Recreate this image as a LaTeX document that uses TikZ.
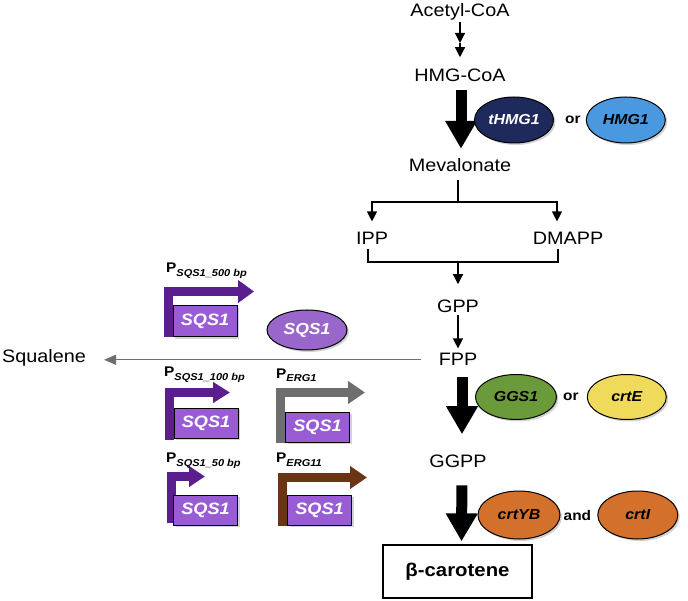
\documentclass[tikz,border=0pt]{standalone}
\usepackage{fontspec}
\setmainfont{Liberation Sans}[FakeStretch=1.1]
\usetikzlibrary{arrows.meta, positioning, calc, shapes.geometric, shadows}

\definecolor{navy}{HTML}{1F2A5C}
\definecolor{skyblue}{HTML}{4A98E0}
\definecolor{leaf}{HTML}{6B9A3A}
\definecolor{lemon}{HTML}{F0DA5C}
\definecolor{rust}{HTML}{D2702C}
\definecolor{lilac}{HTML}{9966CC}
\definecolor{genebox}{HTML}{9A5CD4}
\definecolor{plum}{HTML}{5B1E8E}
\definecolor{ash}{HTML}{6E6E6E}
\definecolor{umber}{HTML}{6A3512}

\begin{document}
\begin{tikzpicture}[x=1pt, y=-1pt]
	\tikzset{thinarr/.style={line width=1.2pt, -{Triangle[width=10pt,length=10pt]}},
		thickarr/.style={line width=11pt, -{Triangle[width=30pt,length=28pt]}},
		met/.style={font=\fontsize{18}{20}\selectfont, inner sep=1pt, anchor=base},
		conj/.style={font=\fontsize{14}{16}\selectfont\bfseries, inner sep=0pt},
		enz/.style={ellipse, draw=black, line width=1pt, minimum width=80pt, minimum height=46pt, inner sep=0pt,
			font=\fontsize{14.5}{16}\selectfont\bfseries\itshape,
			drop shadow={opacity=0.35, shadow xshift=2pt, shadow yshift=-2pt}},
		gene/.style={draw=black, line width=1pt, fill=genebox, text=white, minimum width=64pt, minimum height=30pt,
			inner sep=0pt, font=\fontsize{16.5}{18}\selectfont\bfseries\itshape,
			drop shadow={opacity=0.35, shadow xshift=2pt, shadow yshift=-2pt}},
		prom/.style={line width=9pt},
		plabel/.style={anchor=base west, inner sep=0pt, font=\fontsize{14}{16}\selectfont\bfseries}}
	\useasboundingbox (0,0) rectangle (688,601);

	% pathway
	\node[met] (acetyl) at (460,17) {Acetyl-CoA};
	\node[met] (hmg) at (460,82) {HMG-CoA};
	\node[met] (meva) at (460,172) {Mevalonate};
	\node[met] (ipp) at (372,245) {IPP};
	\node[met] (dmapp) at (568,245) {DMAPP};
	\node[met] (gpp) at (458,313) {GPP};
	\node[met] (fpp) at (458,366) {FPP};
	\node[met] (ggpp) at (458,467) {GGPP};
	\node[met] (squalene) at (44,363) {Squalene};
	\node[draw=black, line width=1.2pt, minimum width=149pt, minimum height=53pt,
		font=\fontsize{18.5}{20}\selectfont\bfseries] (carotene) at (457.5,571.5) {β-carotene};

	\coordinate (mid) at (460,43);
	\coordinate (split) at (458,202);
	\coordinate (join) at (458,262);

	\draw[thinarr] (acetyl.south) -- (mid);
	\draw[thinarr, shorten >=11pt] (mid) -- (hmg.north);
	\draw[thickarr, shorten <=7pt, shorten >=9pt] ($(hmg.south)+(1,0)$) -- ($(meva.north)+(1,0)$);
	\draw[line width=1.2pt, shorten <=7pt] (meva.south -| split) -- (split);
	\draw[thinarr, shorten >=10pt] (split) -| (ipp.north);
	\draw[thinarr, shorten >=10pt] (split) -| ($(dmapp.north)+(-11,0)$);
	\draw[line width=1.2pt] ($(ipp.south)+(-4,3)$) |- (join) -| ($(dmapp.south)+(-10,3)$);
	\draw[thinarr, shorten >=15pt] (join) -- (gpp.north);
	\draw[thinarr, shorten <=1pt, shorten >=4pt] (gpp.south) -- (fpp.north);
	\draw[line width=1.2pt, ash, -{Triangle[width=10pt,length=12pt]}, shorten <=17pt, shorten >=17pt]
		(fpp.west) -- (fpp.west -| squalene.east);
	\draw[thickarr, shorten <=10pt, shorten >=19pt] ($(fpp.south)+(4,0)$) -- ($(ggpp.north)+(4,0)$);
	\draw[thickarr, shorten <=17pt, shorten >=3pt] ($(ggpp.south)+(4,0)$) -- ($(carotene.north)+(4,0)$);

	% enzymes
	\node[enz, fill=navy, text=white, minimum width=79pt] (thmg) at (514,120) {tHMG1};
	\node[conj, right=11pt of thmg] (or1) {or};
	\node[enz, fill=skyblue, minimum width=79pt, right=5pt of or1] (hmgone) {HMG1};
	\node[enz, fill=leaf, minimum width=81pt, minimum height=45pt] (ggs) at (516,397) {GGS1};
	\node[conj, right=6pt of ggs] (or2) {or};
	\node[enz, fill=lemon, minimum width=79pt, minimum height=45pt, right=8pt of or2] (crte) {crtE};
	\node[enz, fill=rust, minimum width=82pt, minimum height=48pt] (crtyb) at (519,515) {crtYB};
	\node[conj, right=3pt of crtyb] (and) {and};
	\node[enz, fill=rust, minimum width=80pt, minimum height=48pt, right=6pt of and] (crti) {crtI};
	\node[enz, fill=lilac, text=white, minimum height=40pt, font=\fontsize{16}{18}\selectfont\bfseries\itshape] (sqsenz) at (307,330) {SQS1};

	% promoter constructs
	\draw[prom, plum, -{Triangle[width=22pt,length=16pt]}] (168.5,337) |- (254,291.5);
	\node[gene, minimum width=64pt, minimum height=31pt] (sqs500) at (205,321.5) {SQS1};
	\node[plabel] (p500) at (166,273) {P\raisebox{-4pt}{\fontsize{10}{12}\selectfont\itshape SQS1\_500 bp}};

	\draw[prom, plum, -{Triangle[width=20pt,length=17pt]}] (169.5,440) |- (230,392.5);
	\node[gene] (sqs100) at (206,423) {SQS1};
	\node[plabel] (p100) at (164,377) {P\raisebox{-4pt}{\fontsize{10}{12}\selectfont\itshape SQS1\_100 bp}};

	\draw[prom, plum, -{Triangle[width=20pt,length=16pt]}] (171,523) |- (205,476.5);
	\node[gene] (sqs50) at (205.5,510) {SQS1};
	\node[plabel] (p50) at (166,462) {P\raisebox{-4pt}{\fontsize{10}{12}\selectfont\itshape SQS1\_50 bp}};

	\draw[prom, ash, -{Triangle[width=22pt,length=17pt]}] (280.5,443) |- (365,392.5);
	\node[gene] (sqserg1) at (317.5,427) {SQS1};
	\node[plabel] (perg1) at (276,378) {P\raisebox{-4pt}{\fontsize{10}{12}\selectfont\itshape ERG1}};

	\draw[prom, umber, -{Triangle[width=22pt,length=17pt]}] (282.5,526) |- (367,477.5);
	\node[gene] (sqserg11) at (319.5,510) {SQS1};
	\node[plabel] (perg11) at (276,462) {P\raisebox{-4pt}{\fontsize{10}{12}\selectfont\itshape ERG11}};
\end{tikzpicture}
\end{document}
